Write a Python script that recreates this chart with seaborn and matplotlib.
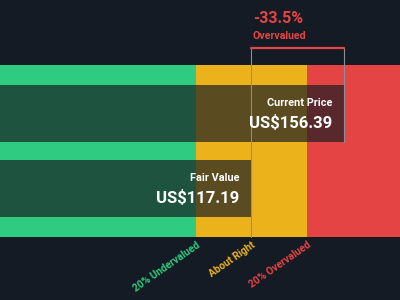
import matplotlib
matplotlib.use("Agg")
import matplotlib.pyplot as plt
import seaborn as sns
import pandas as pd

# ---- data ----
categories = ["Current Price", "Fair Value"]
values = [156.39, 117.19]
currency = "US$"
diff_label = "-33.5%"
diff_word = "Overvalued"
zone_labels = ["20% Undervalued", "About Right", "20% Overvalued"]

BG = "#151b24"
GREEN = "#2ecb80"
YELLOW = "#ecb21c"
RED = "#e54444"
LINE = "#8a8f96"

sns.set_theme(style="white")
plt.rcParams["font.family"] = ["Roboto", "DejaVu Sans"]

fig = plt.figure(figsize=(4, 3), dpi=100, facecolor=BG)
ax = fig.add_axes([0, 0, 1, 1])
ax.set_facecolor(BG)

cur, fv = values
x_lo, x_hi = 11.0, 180.0
band_top, band_bot = -0.647, 1.647
band_c = (band_top + band_bot) / 2
band_h = band_bot - band_top

# zone bands
edges = [x_lo, fv * 0.8, fv * 1.2, x_hi]
for c, l, r in zip([GREEN, YELLOW, RED], edges[:-1], edges[1:]):
    ax.barh(band_c, r - l, left=l, height=band_h, color=c, linewidth=0, zorder=1)

# value bars with seaborn
df = pd.DataFrame({"label": categories, "value": values})
sns.barplot(data=df, x="value", y="label", orient="h", width=0.76,
            color=BG, ax=ax, zorder=2, linewidth=0)
for p in ax.patches[3:]:
    p.set_alpha(0.68)
    p.set_x(x_lo - 5)
    p.set_width(p.get_width() - (x_lo - 5))

# texts on bars
for i, (lab, v) in enumerate(zip(categories, values)):
    ax.annotate(lab, xy=(v, i), xytext=(-8.6, 7.4), textcoords="offset points",
                ha="right", va="center", color="white", fontsize=7.8,
                fontweight="bold", zorder=5)
    ax.annotate(f"{currency}{v:.2f}", xy=(v, i), xytext=(-8.6, -7.2),
                textcoords="offset points", ha="right", va="center",
                color="white", fontsize=12, fontweight="bold", zorder=5)

# bracket
top_y = -0.873
ax.plot([fv, fv], [top_y, band_bot], color=LINE, lw=0.8, zorder=4)
ax.plot([cur, cur], [top_y, 0.38], color=LINE, lw=0.8, zorder=4)
ax.plot([fv, cur], [top_y, top_y], color=RED, lw=1.6, zorder=4)
ax.annotate(diff_label, xy=(fv, top_y), xytext=(1, 21), textcoords="offset points",
            ha="left", va="center", color=RED, fontsize=11.5, fontweight="bold")
ax.annotate(diff_word, xy=(fv, top_y), xytext=(1, 8.3), textcoords="offset points",
            ha="left", va="center", color=RED, fontsize=7.6, fontweight="bold")

# zone labels
for lab, xv, c in zip(zone_labels, [fv * 0.8, fv, fv * 1.2], [GREEN, YELLOW, RED]):
    ax.annotate(lab, xy=(xv, band_bot), xytext=(0, -2), textcoords="offset points",
                ha="right", va="top", rotation=35, rotation_mode="anchor",
                color=c, fontsize=7.3, fontweight="bold")

ax.set_xlim(x_lo, x_hi)
ax.set_ylim(2.487, -1.513)
ax.axis("off")

fig.savefig("out.png", dpi=100, facecolor=BG)
